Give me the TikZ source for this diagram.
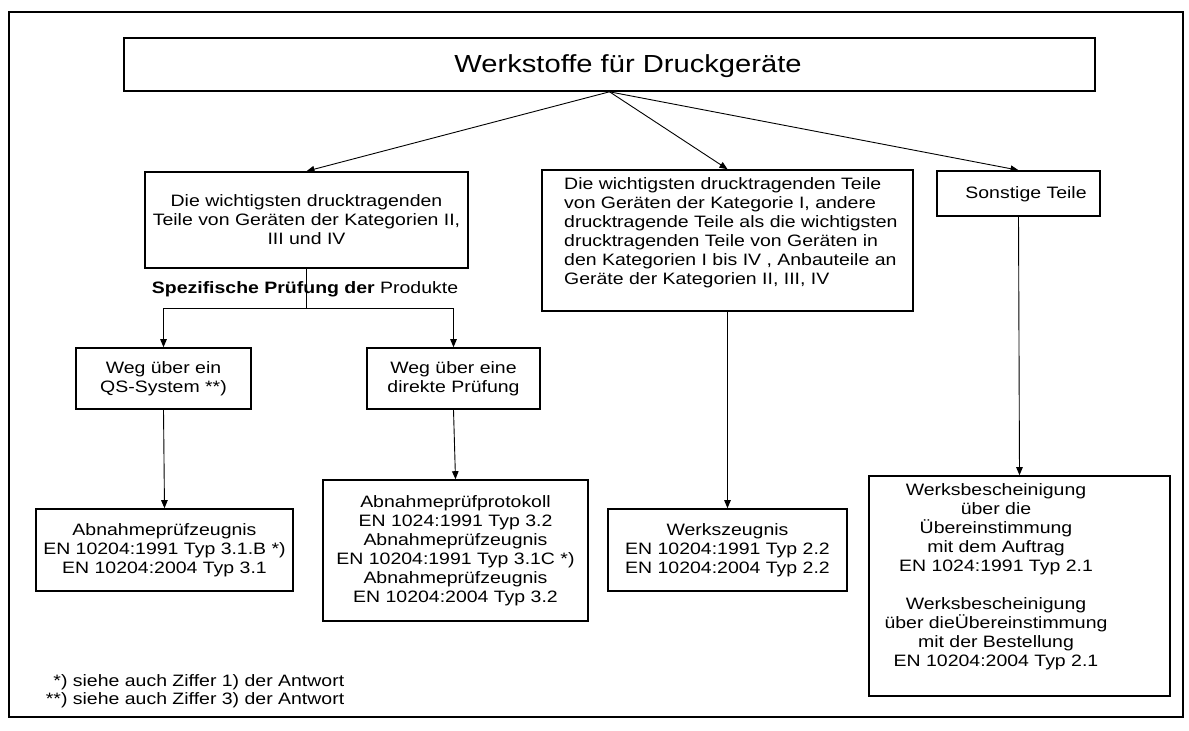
\documentclass[tikz,border=0pt]{standalone}
\usepackage{fontspec}
\setmainfont{Liberation Sans}[FakeStretch=1.18]
\usetikzlibrary{arrows.meta}

\begin{document}
\begin{tikzpicture}[x=1pt, y=-1pt,
    kasten/.style={draw, line width=1.6pt, inner sep=0pt},
    txt/.style={inner sep=0pt, align=center, font=\fontsize{16.5}{19}\selectfont},
    linie/.style={line width=0.9pt},
    pfeil/.style={line width=0.9pt, -{Triangle[length=8pt,width=6.5pt]}}]

    \useasboundingbox (0,0) rectangle (1189,731);
    % Frame
    \draw[line width=2pt] (9,12) rectangle (1183,717);

    % Title
    \node[kasten, minimum width=971pt, minimum height=53pt] (titel) at (609.5,64.5) {};
    \node[txt, font=\fontsize{24.7}{28}\selectfont] (titeltext) at (628,66) {Werkstoffe für Druckgeräte};

    % Second row
    \node[kasten, txt, minimum width=323pt, minimum height=96pt] (kat2) at (306.5,220)
        {Die wichtigsten drucktragenden\\Teile von Geräten der Kategorien II,\\III und IV};
    \node[kasten, minimum width=371pt, minimum height=141pt] (kat1) at (727.5,240.5) {};
    \node[txt, align=left, anchor=west] (kat1text) at (564,232.7)
        {Die wichtigsten drucktragenden Teile\\von Geräten der Kategorie I, andere\\drucktragende Teile als die wichtigsten\\drucktragenden Teile von Geräten in\\den Kategorien I bis IV , Anbauteile an\\Geräte der Kategorien II, III, IV};
    \node[kasten, minimum width=163pt, minimum height=45pt] (sonst) at (1018.5,193.5) {};
    \node[txt] (sonsttext) at (1026,194) {Sonstige Teile};

    % Paths
    \node[txt] (pruefung) at (305,289.3) {\textbf{Spezifische Prüfung der} Produkte};
    \node[kasten, txt, minimum width=175pt, minimum height=61pt] (qs) at (163.5,378.5)
        {Weg über ein\\QS-System **)};
    \node[kasten, txt, minimum width=173pt, minimum height=61pt] (direkt) at (453.5,378.5)
        {Weg über eine\\direkte Prüfung};

    % Certificates
    \node[kasten, txt, minimum width=257pt, minimum height=82pt] (azeug) at (164.5,550)
        {Abnahmeprüfzeugnis\\EN 10204:1991 Typ 3.1.B *)\\EN 10204:2004 Typ 3.1};
    \node[kasten, txt, minimum width=265pt, minimum height=141pt] (aprot) at (455.5,550.5)
        {Abnahmeprüfprotokoll\\EN 1024:1991 Typ 3.2\\Abnahmeprüfzeugnis\\EN 10204:1991 Typ 3.1C *)\\Abnahmeprüfzeugnis\\EN 10204:2004 Typ 3.2};
    \node[kasten, txt, minimum width=239pt, minimum height=82pt] (wzeug) at (727.5,550)
        {Werkszeugnis\\EN 10204:1991 Typ 2.2\\EN 10204:2004 Typ 2.2};
    \node[kasten, minimum width=301pt, minimum height=220pt] (wbesch) at (1019.5,586) {};
    \node[txt] (wbeschtext) at (996,577.2)
        {Werksbescheinigung\\über die\\Übereinstimmung\\mit dem Auftrag\\EN 1024:1991 Typ 2.1\\[19pt]Werksbescheinigung\\über dieÜbereinstimmung\\mit der Bestellung\\EN 10204:2004 Typ 2.1};

    % Footnotes
    \node[txt, align=left, anchor=west, font=\fontsize{16.5}{17.3}\selectfont] (fussnote) at (45.7,691.3)
        {\phantom{*}*) siehe auch Ziffer 1) der Antwort\\**) siehe auch Ziffer 3) der Antwort};

    % Arrows
    \draw[pfeil] (titel.south) -- (kat2.north);
    \draw[pfeil] (titel.south) -- (kat1.north);
    \draw[pfeil] (titel.south) -- (sonst.north);
    \coordinate (gabel) at (306.5,308);
    \draw[linie] (kat2.south) -- (gabel);
    \draw[pfeil] (gabel) -| (qs.north);
    \draw[pfeil] (gabel) -| (direkt.north);
    \draw[pfeil] (qs.south) -- (azeug.north);
    \draw[pfeil] (direkt.south) -- (aprot.north);
    \draw[pfeil] (kat1.south) -- (wzeug.north);
    \draw[pfeil] (sonst.south) -- (wbesch.north);

\end{tikzpicture}
\end{document}
